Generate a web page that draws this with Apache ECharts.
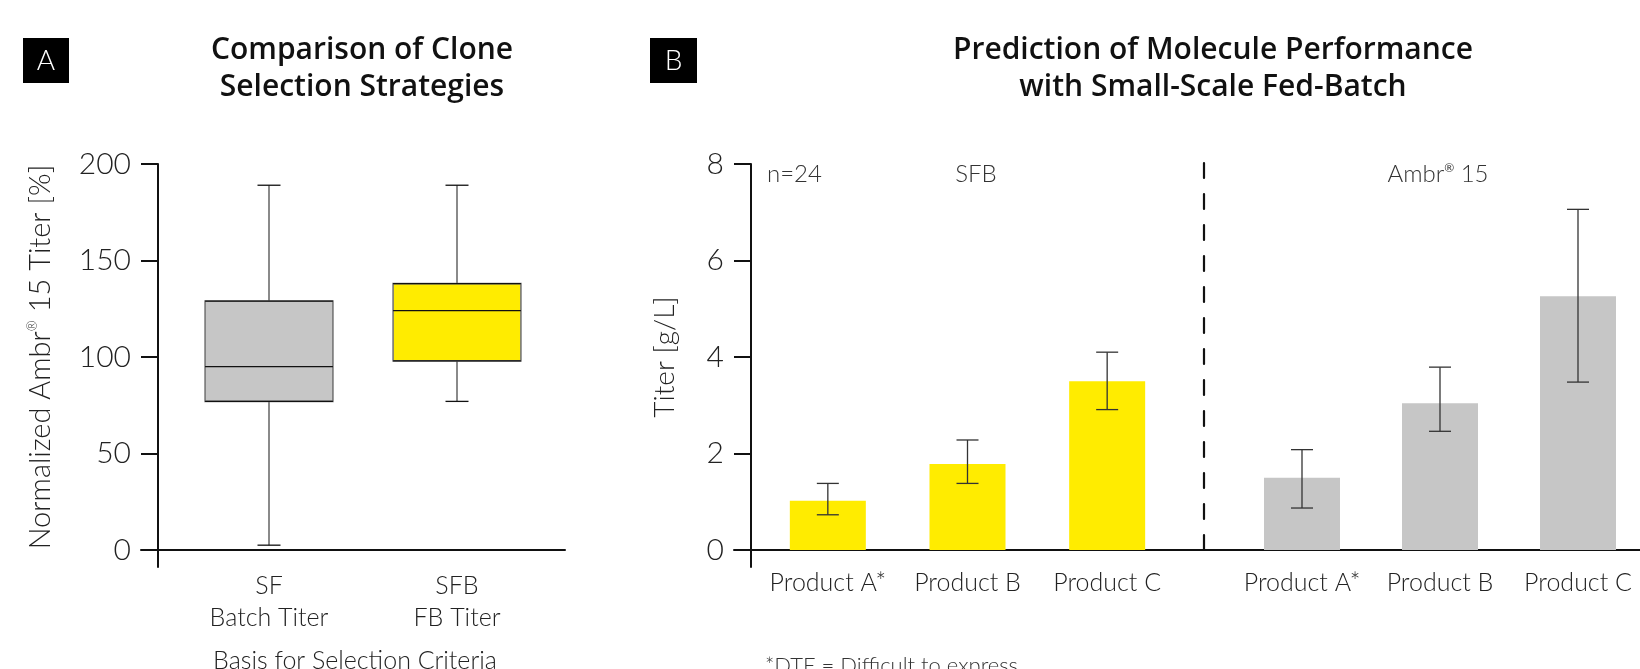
<!DOCTYPE html>
<html>
<head>
<meta charset="utf-8">
<script src="https://cdn.jsdelivr.net/npm/echarts@6/dist/echarts.min.js"></script>
<style>
  html, body { margin: 0; padding: 0; background: #fff; }
  #chart { width: 1640px; height: 669px; }
</style>
</head>
<body>
<div id="chart"></div>
<script>
// ---- Data (panel A: box plot) ----
const boxCategories = ['SF\nBatch Titer', 'SFB\nFB Titer'];
// [min, Q1, median, Q3, max]
const boxSF  = [2.5, 77, 95, 129, 189];
const boxSFB = [77, 98, 124, 138, 189];
const boxYTicks = [0, 50, 100, 150, 200];

// ---- Data (panel B: bars with error bars) ----
const productCategories = ['Product A*', 'Product B', 'Product C'];
const sfbMean = [1.02, 1.78, 3.50];
const sfbLow  = [0.73, 1.38, 2.91];
const sfbHigh = [1.38, 2.28, 4.10];
const ambrMean = [1.50, 3.04, 5.26];
const ambrLow  = [0.87, 2.46, 3.48];
const ambrHigh = [2.08, 3.79, 7.06];
const barYTicks = [0, 2, 4, 6, 8];

const FONT = 'Lato';
const TITLE_FONT = 'Open Sans';
const TXT = '#222';
const BOX_COLORS = ['#c6c6c6', '#ffec00'];

function errorSeries(xi, yi, low, high) {
  return {
    type: 'custom',
    xAxisIndex: xi, yAxisIndex: yi,
    silent: true,
    z: 5,
    data: low.map((l, i) => [i, l, high[i]]),
    encode: { x: 0, y: [1, 2] },
    renderItem: function (params, api) {
      const x = api.value(0);
      const pLo = api.coord([x, api.value(1)]);
      const pHi = api.coord([x, api.value(2)]);
      const half = 11;
      const st = { stroke: '#333', lineWidth: 1.3 };
      return {
        type: 'group',
        children: [
          { type: 'line', shape: { x1: pHi[0], y1: pHi[1], x2: pLo[0], y2: pLo[1] }, style: st },
          { type: 'line', shape: { x1: pHi[0] - half, y1: pHi[1], x2: pHi[0] + half, y2: pHi[1] }, style: st },
          { type: 'line', shape: { x1: pLo[0] - half, y1: pLo[1], x2: pLo[0] + half, y2: pLo[1] }, style: st }
        ]
      };
    }
  };
}

function boxRender(params, api) {
  const x = api.value(0);
  const pMin = api.coord([x, api.value(1)]);
  const pQ1 = api.coord([x, api.value(2)]);
  const pMed = api.coord([x, api.value(3)]);
  const pQ3 = api.coord([x, api.value(4)]);
  const pMax = api.coord([x, api.value(5)]);
  const band = api.size([1, 0])[0];
  const hw = band * 0.34;
  const cap = 11.5;
  const cx = pMed[0];
  const whisker = { stroke: '#8a8a8a', lineWidth: 2 };
  const dark = { stroke: '#111', lineWidth: 1.3 };
  return {
    type: 'group',
    children: [
      { type: 'line', shape: { x1: cx, y1: pMax[1], x2: cx, y2: pQ3[1] }, style: whisker },
      { type: 'line', shape: { x1: cx, y1: pQ1[1], x2: cx, y2: pMin[1] }, style: whisker },
      { type: 'line', shape: { x1: cx - cap, y1: pMax[1], x2: cx + cap, y2: pMax[1] }, style: dark },
      { type: 'line', shape: { x1: cx - cap, y1: pMin[1], x2: cx + cap, y2: pMin[1] }, style: dark },
      { type: 'rect', shape: { x: cx - hw, y: pQ3[1], width: hw * 2, height: pQ1[1] - pQ3[1] },
        style: { fill: BOX_COLORS[params.dataIndex], stroke: '#777', lineWidth: 1.6 } },
      { type: 'line', shape: { x1: cx - hw, y1: pQ3[1], x2: cx + hw, y2: pQ3[1] }, style: dark },
      { type: 'line', shape: { x1: cx - hw, y1: pQ1[1], x2: cx + hw, y2: pQ1[1] }, style: dark },
      { type: 'line', shape: { x1: cx - hw, y1: pMed[1], x2: cx + hw, y2: pMed[1] }, style: dark }
    ]
  };
}

const lineOnlyAxis = (extra) => Object.assign({
  axisLine: { show: true, onZero: false, lineStyle: { color: '#111', width: 2 } },
  axisTick: { show: false }, axisLabel: { show: false }, splitLine: { show: false }
}, extra);
const hiddenAxis = (extra) => Object.assign({ show: false }, extra);

const catLabel = (margin) => ({
  fontFamily: FONT, fontWeight: 300, fontSize: 25, color: TXT, lineHeight: 32, margin: margin, interval: 0
});
const valTick = { show: true, length: 17, lineStyle: { color: '#111', width: 2 } };
const valLabel = { fontFamily: FONT, fontWeight: 300, fontSize: 30, color: TXT, margin: 27 };

const G = (o) => Object.assign({ outerBoundsMode: 'none', containLabel: false }, o);

const chart = echarts.init(document.getElementById('chart'), null, { renderer: 'canvas' });

const option = {
  animation: false,
  backgroundColor: '#fff',
  grid: [
    G({ left: 175, top: 164, width: 376, height: 386 }),   // 0 box plot data
    G({ left: 158, top: 164, width: 407, height: 403 }),   // 1 left y-axis line
    G({ left: 141, top: 164, width: 424, height: 386 }),   // 2 left x-axis line
    G({ left: 758, top: 164, width: 419, height: 386 }),   // 3 SFB bars
    G({ left: 1233, top: 164, width: 414, height: 386 }),  // 4 Ambr bars
    G({ left: 751, top: 164, width: 900, height: 403 }),   // 5 right y-axis line
    G({ left: 734, top: 164, width: 920, height: 386 }),   // 6 right x-axis line
    G({ left: 1204, top: 163, width: 100, height: 387 })   // 7 dashed divider
  ],
  xAxis: [
    { gridIndex: 0, type: 'category', data: boxCategories,
      axisLine: { show: false }, axisTick: { show: false }, axisLabel: catLabel(20),
      name: 'Basis for Selection Criteria', nameLocation: 'middle', nameGap: 98,
      nameTextStyle: { fontFamily: FONT, fontWeight: 300, fontSize: 25, color: TXT, padding: [0, 16, 0, 0] } },
    hiddenAxis({ gridIndex: 1, type: 'value' }),
    lineOnlyAxis({ gridIndex: 2, type: 'value', min: 0, max: 1 }),
    { gridIndex: 3, type: 'category', data: productCategories,
      axisLine: { show: false }, axisTick: { show: false }, axisLabel: catLabel(17) },
    { gridIndex: 4, type: 'category', data: productCategories,
      axisLine: { show: false }, axisTick: { show: false }, axisLabel: catLabel(17) },
    hiddenAxis({ gridIndex: 5, type: 'value' }),
    lineOnlyAxis({ gridIndex: 6, type: 'value', min: 0, max: 1 }),
    hiddenAxis({ gridIndex: 7, type: 'value' })
  ],
  yAxis: [
    { gridIndex: 0, type: 'value', min: boxYTicks[0], max: boxYTicks[boxYTicks.length - 1], interval: 50,
      offset: 17, axisLine: { show: false }, axisTick: valTick, axisLabel: valLabel, splitLine: { show: false },
      name: 'Normalized Ambr{sup|®} 15 Titer [%]', nameLocation: 'middle', nameGap: 103,
      nameTextStyle: { fontFamily: FONT, fontWeight: 300, fontSize: 29, color: TXT,
        rich: { sup: { fontFamily: FONT, fontSize: 13, color: TXT, verticalAlign: 'top', lineHeight: 29 } } } },
    lineOnlyAxis({ gridIndex: 1, type: 'value', min: 0, max: 1 }),
    hiddenAxis({ gridIndex: 2, type: 'value', min: 0, max: 1 }),
    { gridIndex: 3, type: 'value', min: barYTicks[0], max: barYTicks[barYTicks.length - 1], interval: 2,
      offset: 7, axisLine: { show: false }, axisTick: valTick, axisLabel: valLabel, splitLine: { show: false },
      name: 'Titer [g/L]', nameLocation: 'middle', nameGap: 72,
      nameTextStyle: { fontFamily: FONT, fontWeight: 300, fontSize: 28, color: TXT } },
    hiddenAxis({ gridIndex: 4, type: 'value', min: barYTicks[0], max: barYTicks[barYTicks.length - 1] }),
    lineOnlyAxis({ gridIndex: 5, type: 'value', min: 0, max: 1 }),
    hiddenAxis({ gridIndex: 6, type: 'value', min: 0, max: 1 }),
    lineOnlyAxis({ gridIndex: 7, type: 'value', min: 0, max: 1,
      axisLine: { show: true, onZero: false, lineStyle: { color: '#111', width: 2.2, type: [15, 16] } } })
  ],
  series: [
    { type: 'custom', xAxisIndex: 0, yAxisIndex: 0, silent: true,
      data: [boxSF, boxSFB].map((b, i) => [i].concat(b)),
      encode: { x: 0, y: [1, 2, 3, 4, 5] },
      renderItem: boxRender },
    { type: 'bar', xAxisIndex: 3, yAxisIndex: 3, data: sfbMean, barWidth: 76,
      itemStyle: { color: '#ffec00' } },
    { type: 'bar', xAxisIndex: 4, yAxisIndex: 4, data: ambrMean, barWidth: 76,
      itemStyle: { color: '#c6c6c6' } },
    errorSeries(3, 3, sfbLow, sfbHigh),
    errorSeries(4, 4, ambrLow, ambrHigh)
  ],
  graphic: [
    { type: 'rect', shape: { x: 23, y: 38, width: 46, height: 45 }, style: { fill: '#000' } },
    { type: 'text', x: 46, y: 61, style: { text: 'A', fill: '#fff', fontFamily: FONT, fontWeight: 300, fontSize: 28, align: 'center', verticalAlign: 'middle' } },
    { type: 'rect', shape: { x: 650, y: 38, width: 47, height: 45 }, style: { fill: '#000' } },
    { type: 'text', x: 673.5, y: 61, style: { text: 'B', fill: '#fff', fontFamily: FONT, fontWeight: 300, fontSize: 28, align: 'center', verticalAlign: 'middle' } },
    { type: 'text', x: 362, y: 32, style: { text: 'Comparison of Clone\nSelection Strategies', fill: '#111', fontFamily: TITLE_FONT, fontWeight: 600, fontSize: 30, lineHeight: 37, align: 'center', verticalAlign: 'top' } },
    { type: 'text', x: 1213, y: 32, style: { text: 'Prediction of Molecule Performance\nwith Small-Scale Fed-Batch', fill: '#111', fontFamily: TITLE_FONT, fontWeight: 600, fontSize: 30, lineHeight: 37, align: 'center', verticalAlign: 'top' } },
    { type: 'text', x: 767, y: 174, style: { text: 'n=24', fill: '#333', fontFamily: FONT, fontWeight: 300, fontSize: 24, align: 'left', verticalAlign: 'middle' } },
    { type: 'text', x: 976, y: 174, style: { text: 'SFB', fill: '#333', fontFamily: FONT, fontWeight: 300, fontSize: 24, align: 'center', verticalAlign: 'middle' } },
    { type: 'text', x: 1438, y: 174, style: { text: 'Ambr{sup|®} 15', fill: '#333', fontFamily: FONT, fontWeight: 300, fontSize: 24, align: 'center', verticalAlign: 'middle',
      rich: { sup: { fontFamily: FONT, fontSize: 12, fill: '#333', verticalAlign: 'top', lineHeight: 24 } } } },
    { type: 'text', x: 765, y: 666, style: { text: '*DTE = Difficult to express', fill: '#333', fontFamily: FONT, fontWeight: 300, fontSize: 22, align: 'left', verticalAlign: 'middle' } }
  ]
};

chart.setOption(option);
</script>
</body>
</html>
